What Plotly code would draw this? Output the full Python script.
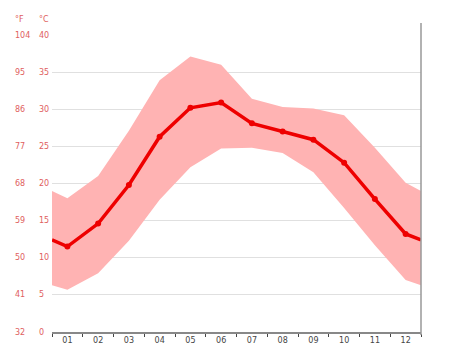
import plotly.graph_objects as go

# x positions: half-month edges plus months 1..12
x_pos = [0.5, 1, 2, 3, 4, 5, 6, 7, 8, 9, 10, 11, 12, 12.5]
month_labels = ["01", "02", "03", "04", "05", "06", "07", "08", "09", "10", "11", "12"]
months = [1, 2, 3, 4, 5, 6, 7, 8, 9, 10, 11, 12]

avg_temp = [12.4, 11.5, 14.6, 19.8, 26.3, 30.2, 30.9, 28.1, 27.0, 25.9, 22.8, 17.9, 13.2, 12.4]
max_temp = [19.0, 18.0, 21.0, 27.1, 33.9, 37.1, 36.0, 31.4, 30.3, 30.1, 29.2, 24.8, 20.1, 19.0]
min_temp = [6.3, 5.7, 7.9, 12.3, 17.8, 22.2, 24.7, 24.8, 24.1, 21.5, 16.7, 11.7, 7.0, 6.3]

c_ticks = [0, 5, 10, 15, 20, 25, 30, 35, 40]
c_labels = ["0", "5", "10", "15", "20", "25", "30", "35", "40"]
f_labels = ["32", "41", "50", "59", "68", "77", "86", "95", "104"]

# page has an 8px body margin; compensate
OFF = 8
W, H = 474, 355
L, T = 52 - OFF, 35 - OFF
pw, ph = 369, 297
R = W - L - pw
B = H - T - ph

fig = go.Figure()
fig.add_trace(go.Scatter(x=x_pos, y=min_temp, mode="lines", line=dict(width=0, color="#ffb3b3"),
                         hoverinfo="skip", showlegend=False))
fig.add_trace(go.Scatter(x=x_pos, y=max_temp, mode="lines", line=dict(width=0, color="#ffb3b3"),
                         fill="tonexty", fillcolor="#ffb3b3", hoverinfo="skip", showlegend=False))
fig.add_trace(go.Scatter(x=x_pos, y=avg_temp, mode="lines", line=dict(width=3.5, color="#ee0000"),
                         showlegend=False))
fig.add_trace(go.Scatter(x=months, y=avg_temp[1:13], mode="markers",
                         marker=dict(size=6, color="#ee0000"), showlegend=False))

lab_color = "#e06060"
fx = (13 - 52) / pw
cx = (37 - 52) / pw
for v, cl, fl in zip(c_ticks, c_labels, f_labels):
    fig.add_annotation(x=fx, y=v, xref="paper", yref="y", text=fl, showarrow=False,
                       xanchor="left", yanchor="middle", font=dict(size=8, color=lab_color,
                       family="DejaVu Sans"))
    fig.add_annotation(x=cx, y=v, xref="paper", yref="y", text=cl, showarrow=False,
                       xanchor="left", yanchor="middle", font=dict(size=8, color=lab_color,
                       family="DejaVu Sans"))
hy = 1 + (35 - 20) / ph
fig.add_annotation(x=fx, y=hy, xref="paper", yref="paper", text="°F", showarrow=False,
                   xanchor="left", yanchor="middle", font=dict(size=8, color=lab_color, family="DejaVu Sans"))
fig.add_annotation(x=cx, y=hy, xref="paper", yref="paper", text="°C", showarrow=False,
                   xanchor="left", yanchor="middle", font=dict(size=8, color=lab_color, family="DejaVu Sans"))

# right vertical line
fig.add_shape(type="line", xref="paper", yref="paper", x0=1, x1=1,
              y0=-3 / ph, y1=1 + (35 - 23) / ph, line=dict(color="#999999", width=1.5))

fig.update_xaxes(range=[0.5, 12.5], tickvals=months, ticktext=month_labels, ticks="",
                 showgrid=False, zeroline=False, showline=True, linecolor="#888888", linewidth=1.5,
                 tickfont=dict(size=8, color="#444444", family="DejaVu Sans"),
                 minor=dict(tick0=0.5, dtick=1, ticks="outside", ticklen=3, tickcolor="#444444",
                            tickwidth=1, showgrid=False))
fig.update_yaxes(range=[0, 40], tickvals=c_ticks, showticklabels=False, showgrid=True,
                 gridcolor="#e0e0e0", gridwidth=1, zeroline=False, showline=False, ticks="")

fig.update_layout(width=W, height=H, margin=dict(l=L, r=R, t=T, b=B, pad=0),
                  plot_bgcolor="white", paper_bgcolor="white", showlegend=False)
fig.write_html("out.html")
